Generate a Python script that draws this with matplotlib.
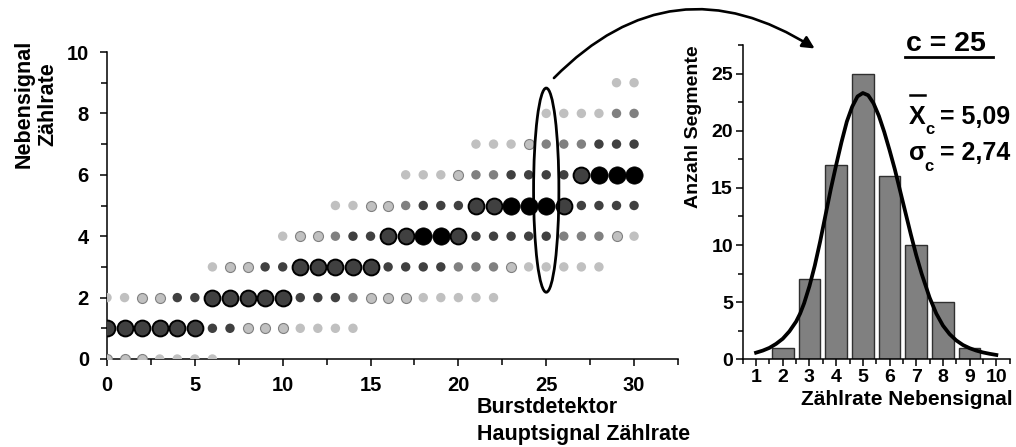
import matplotlib
matplotlib.use("Agg")
import matplotlib.pyplot as plt
from matplotlib.patches import Ellipse, FancyArrowPatch
from matplotlib.lines import Line2D
from matplotlib.ticker import MultipleLocator

plt.rcParams['font.family'] = ['Liberation Sans', 'DejaVu Sans']
plt.rcParams['font.weight'] = 'bold'

# --- left panel: Nebensignal rate (rows) vs Hauptsignal rate (columns) ---
# every row: first column with a dot, then the shade level of each dot
# 1 light, 2 light with rim, 3 mid grey, 4 dark grey, 5 dark big, 6 black big
row_y = [0, 1, 2, 3, 4, 5, 6, 7, 8, 9]
row_first = [0, 0, 0, 6, 10, 13, 17, 21, 25, 29]
row_levels = [
    [2, 2, 2, 1, 1, 1, 1],
    [5, 5, 5, 5, 5, 5, 4, 4, 2, 2, 2, 1, 1, 1, 1],
    [1, 1, 2, 2, 4, 4, 5, 5, 5, 5, 5, 4, 4, 4, 3, 2, 2, 2, 1, 1, 1, 1, 1],
    [1, 2, 2, 4, 4, 5, 5, 5, 5, 5, 4, 4, 4, 4, 3, 3, 3, 2, 1, 1, 1, 1, 1],
    [1, 2, 2, 3, 4, 4, 5, 5, 6, 6, 5, 4, 4, 4, 4, 4, 3, 3, 3, 2, 1],
    [1, 1, 2, 2, 3, 4, 4, 4, 5, 5, 6, 6, 6, 5, 4, 4, 4, 4],
    [1, 1, 1, 2, 3, 3, 4, 4, 4, 4, 5, 6, 6, 6],
    [1, 1, 1, 2, 3, 3, 3, 4, 4, 4],
    [1, 1, 1, 1, 3, 3],
    [1, 1],
]

# --- right panel: histogram for c = 25 ---
hist_x = [2, 3, 4, 5, 6, 7, 8, 9]
hist_n = [1, 7, 17, 25, 16, 10, 5, 1]
# fitted curve
fit_x = [1.0, 1.25, 1.5, 1.75, 2.0, 2.25, 2.5, 2.65, 2.8, 3.0, 3.2, 3.4, 3.6,
         3.8, 4.0, 4.2, 4.4, 4.6, 4.8, 5.0, 5.2, 5.4, 5.6, 5.8, 6.0, 6.2, 6.4,
         6.6, 6.8, 7.0, 7.2, 7.5, 7.75, 8.0, 8.25, 8.5, 8.75, 9.0, 9.25, 9.5,
         9.75, 10.0]
fit_y = [0.58, 0.76, 1.0, 1.35, 1.8, 2.45, 3.3, 4.0, 4.9, 6.4, 8.2, 10.3, 12.6,
         14.9, 17.0, 19.0, 20.8, 22.1, 23.0, 23.3, 23.1, 22.4, 21.3, 19.9, 18.3,
         16.6, 14.7, 12.8, 10.9, 9.1, 7.5, 5.4, 4.0, 2.95, 2.2, 1.65, 1.25, 0.97,
         0.76, 0.6, 0.48, 0.38]

W, H = 1016, 447


def px(x, y):
    # pixel position (from top left) -> figure fraction
    return x / W, 1 - y / H


styles = {
    1: dict(s=46, c='#c0c0c0', edgecolors='none', linewidths=0),
    2: dict(s=52, c='#c0c0c0', edgecolors='#808080', linewidths=0.8),
    3: dict(s=46, c='#808080', edgecolors='none', linewidths=0),
    4: dict(s=46, c='#404040', edgecolors='none', linewidths=0),
    5: dict(s=130, c='#404040', edgecolors='black', linewidths=1.4),
    6: dict(s=155, c='black', edgecolors='black', linewidths=0.5),
}

fig = plt.figure(figsize=(W / 100, H / 100), dpi=100)

ax = fig.add_axes([107 / W, 1 - 359 / H, (678 - 107) / W, (359 - 52) / H])
for lev in range(1, 7):
    xs, ys = [], []
    for y, first, levels in zip(row_y, row_first, row_levels):
        for i, l in enumerate(levels):
            if l == lev:
                xs.append(first + i)
                ys.append(y)
    ax.scatter(xs, ys, zorder=2 + lev, **styles[lev])

ax.set_xlim(0, 32.5)
ax.set_ylim(0, 10)
ax.xaxis.set_major_locator(MultipleLocator(5))
ax.xaxis.set_minor_locator(MultipleLocator(2.5))
ax.yaxis.set_major_locator(MultipleLocator(2))
ax.yaxis.set_minor_locator(MultipleLocator(1))
for s in ['top', 'right']:
    ax.spines[s].set_visible(False)
for s in ['left', 'bottom']:
    ax.spines[s].set_linewidth(1.1)
ax.tick_params(which='major', length=5, width=1.1, labelsize=14.5)
ax.tick_params(axis='x', which='major', pad=7)
ax.tick_params(axis='y', which='major', pad=8)
ax.tick_params(which='minor', length=4, width=1.1)

ell = Ellipse((25, 5.5), 1.44, 6.65, fill=False, lw=2.0, ec='black',
              zorder=10, clip_on=False)
ax.add_patch(ell)

# histogram
ax2 = fig.add_axes([742.7 / W, 1 - 359.3 / H, (1009.7 - 742.7) / W, (359.3 - 45) / H])
ax2.bar(hist_x, hist_n, width=0.81, color='#808080', edgecolor='#303030',
        linewidth=1.0, zorder=2)
ax2.plot(fit_x, fit_y, color='black', lw=2.7, zorder=3, solid_joinstyle='round')
ax2.set_xlim(0.5, 10.5)
ax2.set_ylim(0, 27.5)
ax2.xaxis.set_major_locator(MultipleLocator(1))
ax2.xaxis.set_minor_locator(MultipleLocator(0.5))
ax2.yaxis.set_major_locator(MultipleLocator(5))
ax2.yaxis.set_minor_locator(MultipleLocator(2.5))
ax2.set_xticks(range(1, 11))
for s in ['top', 'right']:
    ax2.spines[s].set_visible(False)
for s in ['left', 'bottom']:
    ax2.spines[s].set_linewidth(1.1)
ax2.tick_params(which='major', length=5, width=1.1, labelsize=14, pad=2)
ax2.tick_params(which='minor', length=3.5, width=1.1)

# axis labels
fig.text(*px(477, 413), 'Burstdetektor', fontsize=15.5, ha='left', va='baseline')
fig.text(*px(477, 440), 'Hauptsignal Zählrate', fontsize=15.5, ha='left', va='baseline')
fig.text(*px(1013, 405), 'Zählrate Nebensignal', fontsize=15, ha='right', va='baseline')
fig.text(*px(24, 104), 'Nebensignal', fontsize=15.5, rotation=90, ha='center', va='center')
fig.text(*px(48, 104), 'Zählrate', fontsize=15.5, rotation=90, ha='center', va='center')
fig.text(*px(694, 127), 'Anzahl Segmente', fontsize=14, rotation=90, ha='center', va='center')

# annotations on the right
fig.text(*px(906, 51), 'c = 25', fontsize=20.5, ha='left', va='baseline')
fig.add_artist(Line2D([905 / W, 993 / W], [1 - 57 / H, 1 - 57 / H], color='black', lw=2))

fig.text(*px(909, 124), 'X', fontsize=18, ha='left', va='baseline')
fig.add_artist(Line2D([910 / W, 925 / W], [1 - 95 / H, 1 - 95 / H], color='black', lw=1.8))
fig.text(*px(925, 134), 'c', fontsize=12, ha='left', va='baseline')
fig.text(*px(1010, 124), '= 5,09', fontsize=18, ha='right', va='baseline')

fig.text(*px(909, 160), 'σ', fontsize=18, ha='left', va='baseline')
fig.text(*px(924, 171), 'c', fontsize=12, ha='left', va='baseline')
fig.text(*px(1010, 160), '= 2,74', fontsize=18, ha='right', va='baseline')

# curved arrow from ellipse to histogram
arrow = FancyArrowPatch(px(552, 80), px(817, 50), transform=fig.transFigure,
                        connectionstyle='arc3,rad=-0.41', arrowstyle='-|>',
                        mutation_scale=18, lw=1.9, color='black')
fig.add_artist(arrow)

fig.savefig('out.png', dpi=100)
